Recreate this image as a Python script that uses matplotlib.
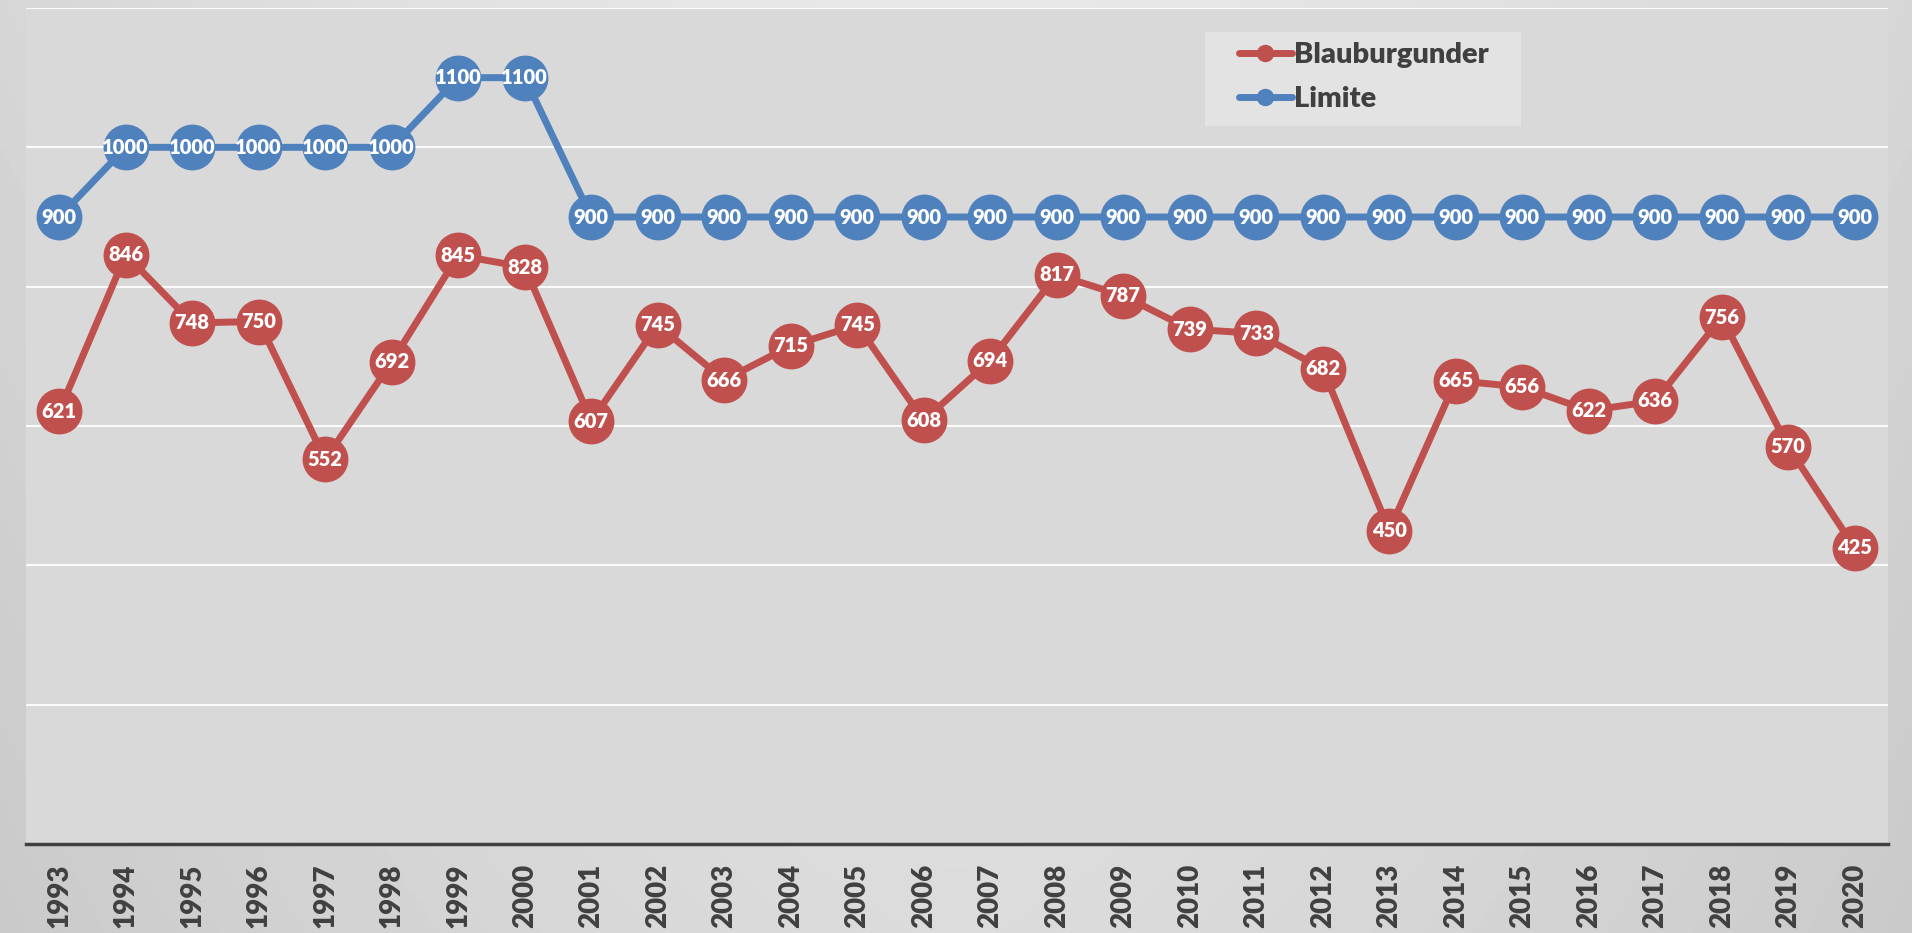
"""Blauburgunder yields vs. limit, 1993-2020."""

import matplotlib
matplotlib.use('Agg')
import matplotlib.pyplot as plt
from matplotlib.patches import Rectangle
import numpy as np

plt.rcParams['font.family'] = ['Lato', 'DejaVu Sans']

years = [str(y) for y in range(1993, 2021)]
blauburgunder = [621, 846, 748, 750, 552, 692, 845, 828, 607, 745,
                 666, 715, 745, 608, 694, 817, 787, 739, 733, 682,
                 450, 665, 656, 622, 636, 756, 570, 425]
limite = [900, 1000, 1000, 1000, 1000, 1000, 1100, 1100, 900, 900,
          900, 900, 900, 900, 900, 900, 900, 900, 900, 900,
          900, 900, 900, 900, 900, 900, 900, 900]

RED = '#c0504d'
BLUE = '#4f81bd'
TEXT = '#404040'
WEIGHT = 'heavy'

fig = plt.figure(figsize=(19.12, 9.33), dpi=100)

# soft grey gradient behind the plot area
bg = fig.add_axes([0, 0, 1, 1], zorder=-10)
gx = np.linspace(-1, 1, 400)
gy = np.linspace(0, 1, 200)
X, Y = np.meshgrid(gx, gy)
grad = 0.91 - 0.07 * np.abs(X) ** 1.5 - 0.05 * Y
bg.imshow(grad, cmap='gray', vmin=0, vmax=1, aspect='auto',
          extent=[0, 1, 0, 1], origin='upper')
bg.set_axis_off()

ax = fig.add_axes([26 / 1912, 89 / 933, 1862 / 1912, 836 / 933])
ax.set_facecolor('#d9d9d9')

x = np.arange(len(years))
ax.plot(x, blauburgunder, color=RED, lw=5, marker='o', ms=32,
        solid_capstyle='round', label='Blauburgunder', zorder=3)
ax.plot(x, limite, color=BLUE, lw=5, marker='o', ms=32,
        solid_capstyle='round', label='Limite', zorder=3)

for xi, v in zip(x, blauburgunder):
    ax.text(xi, v, str(v), color='white', fontsize=14.5, fontweight=WEIGHT,
            ha='center', va='center', zorder=4)
for xi, v in zip(x, limite):
    ax.text(xi, v, str(v), color='white', fontsize=14.5, fontweight=WEIGHT,
            ha='center', va='center', zorder=4)

ax.set_xlim(-0.5, len(years) - 0.5)
ax.set_ylim(0, 1200)
ax.set_yticks(np.arange(0, 1201, 200))
ax.set_yticklabels([])
ax.tick_params(axis='y', length=0)
ax.grid(True, axis='y', color='white', lw=1.5, alpha=0.9)
ax.set_axisbelow(True)

ax.set_xticks(x)
ax.set_xticklabels(years, rotation=90, fontsize=20, fontweight=WEIGHT,
                   color=TEXT)
ax.tick_params(axis='x', length=0, pad=14)

for side in ['top', 'left', 'right']:
    ax.spines[side].set_visible(False)
ax.spines['bottom'].set_color(TEXT)
ax.spines['bottom'].set_linewidth(2.5)

# legend box is wider than the entries, with extra room on the left
ax.add_patch(Rectangle((0.633, 0.859), 0.170, 0.112, transform=ax.transAxes,
                       facecolor='#e3e3e3', edgecolor='none', zorder=5))
leg = ax.legend(loc='upper left', bbox_to_anchor=(0.646, 0.971),
                borderaxespad=0, frameon=False,
                markerscale=0.36, handlelength=1.8, handletextpad=0.1,
                borderpad=0.35, labelspacing=0.6,
                prop={'size': 21, 'weight': WEIGHT})
leg.set_zorder(6)
for t in leg.get_texts():
    t.set_color(TEXT)

fig.savefig('out.png', dpi=100)
